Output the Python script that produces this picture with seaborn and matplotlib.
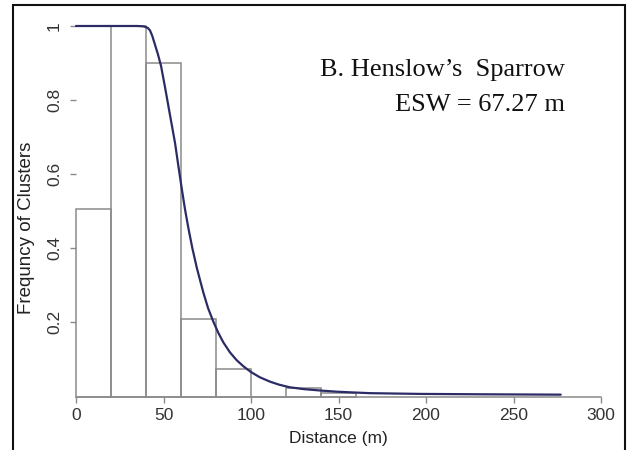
import matplotlib
matplotlib.use("Agg")
import matplotlib.pyplot as plt
import seaborn as sns
import pandas as pd
from matplotlib.patches import Rectangle

# ---- data ----
bin_left = [0, 20, 40, 60, 80, 100, 120, 140]
bin_width = 20
bin_freq = [0.505, 1.0, 0.90, 0.21, 0.075, 0.0, 0.024, 0.010]

curve_x = [0, 20, 35, 38.5, 40.0, 41.2, 42.3, 43.6, 45.1, 46.8, 48.6, 50.9, 53.7,
           56.6, 58.5, 60.4, 62.3, 64.2, 66.5, 69.0, 71.0, 72.8, 75.5, 78.5, 81.3,
           84.2, 88.0, 91.8, 95.8, 100.0, 105.0, 110.9, 116.0, 122.0, 130.0,
           140.0, 149.0, 158.0, 168.0, 182.0, 196.6, 230.0, 277.0]
curve_y = [1.0, 1.0, 1.0, 0.999, 0.997, 0.994, 0.988, 0.973, 0.950, 0.924, 0.892,
           0.834, 0.760, 0.684, 0.622, 0.562, 0.505, 0.455, 0.400, 0.348, 0.312,
           0.280, 0.238, 0.202, 0.172, 0.146, 0.119, 0.098, 0.081, 0.066, 0.052,
           0.040, 0.032, 0.025, 0.020, 0.016, 0.013, 0.011, 0.009, 0.008, 0.007,
           0.006, 0.005]

x_ticks = [0, 50, 100, 150, 200, 250, 300]
y_ticks = [0.2, 0.4, 0.6, 0.8, 1.0]
y_tick_labels = ["0.2", "0.4", "0.6", "0.8", "1"]

title_line1 = "B. Henslow\u2019s  Sparrow"
title_line2 = "ESW = 67.27 m"

sns.set_style("white")
plt.rcParams["font.family"] = ["Liberation Sans", "DejaVu Sans"]

W, H = 628, 450
fig = plt.figure(figsize=(W / 100, H / 100), dpi=100)
x0, x1 = 76, 601
y0, y1 = 396.5, 26
ax = fig.add_axes([x0 / W, 1 - y0 / H, (x1 - x0) / W, (y0 - y1) / H])

hist_df = pd.DataFrame({"left": bin_left, "freq": bin_freq})
curve_df = pd.DataFrame({"x": curve_x, "y": curve_y})

for l, f in zip(hist_df["left"], hist_df["freq"]):
    ax.add_patch(Rectangle((l, 0), bin_width, f, facecolor="none",
                           edgecolor="#8a8a8a", linewidth=1.1, clip_on=False))

sns.lineplot(data=curve_df, x="x", y="y", ax=ax, color="#2b2b66",
             linewidth=1.6, sort=False, clip_on=False)
for ln in ax.lines:
    ln.set_solid_joinstyle("round")

ax.set_xlim(0, 300)
ax.set_ylim(0, 1)
for s in ["top", "right", "left"]:
    ax.spines[s].set_visible(False)
ax.spines["bottom"].set_color("#8a8a8a")
ax.spines["bottom"].set_linewidth(1.1)

ax.set_xticks(x_ticks)
ax.set_xticklabels([str(t) for t in x_ticks])
ax.set_yticks(y_ticks)
ax.set_yticklabels(y_tick_labels, rotation=90, va="center")
ax.tick_params(axis="both", which="both", direction="out", length=4, width=1,
               color="#8a8a8a", labelsize=12.5, labelcolor="#333333", pad=4,
               bottom=True, left=True)
ax.tick_params(axis="y", pad=6)

ax.set_xlabel("Distance (m)", fontsize=12.5, color="#222222", labelpad=6)
ax.set_ylabel("")
fig.text(27 / W, 1 - 228 / H, "Frequncy of Clusters", rotation=90,
         ha="center", va="center", fontsize=13.5, color="#222222")

fig.text(565 / W, 1 - 70 / H, title_line1, ha="right", va="center",
         fontsize=19, family=["Liberation Serif"], color="#111111")
fig.text(565 / W, 1 - 105 / H, title_line2, ha="right", va="center",
         fontsize=19, family=["Liberation Serif"], color="#111111")

fig.patches.append(Rectangle((13 / W, -0.01), (625 - 13) / W, 1 - 5 / H + 0.01,
                             transform=fig.transFigure, fill=False,
                             edgecolor="#111111", linewidth=1.5))

fig.savefig("out.png", dpi=100, facecolor="white")
